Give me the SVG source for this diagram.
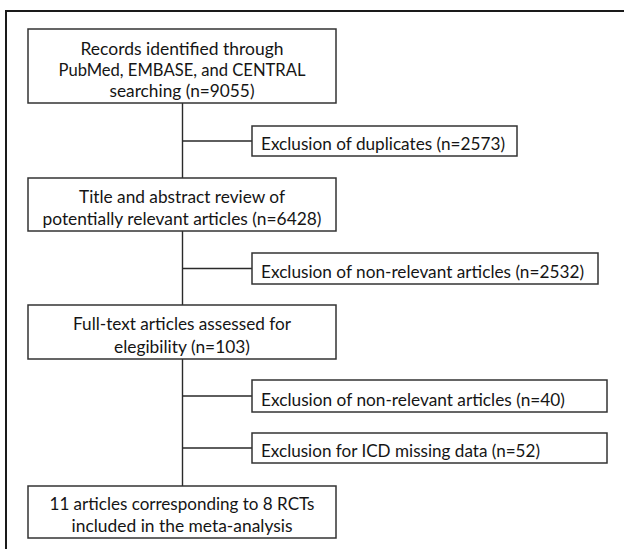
<svg xmlns="http://www.w3.org/2000/svg" width="624" height="549" viewBox="0 0 624 549">
<style>
.frame{fill:none;stroke:#1a1a1a;stroke-width:2}
.box{fill:#fff;stroke:#333;stroke-width:1.5}
.ln{fill:none;stroke:#2a2a2a;stroke-width:1.4}
text{font-family:Lato,"Liberation Sans",Arial,sans-serif;font-size:17px;fill:#151515}
.c{text-anchor:middle}
</style>
<rect width="624" height="549" fill="#fff"/>
<path class="frame" d="M6,549 V11 H624"/>
<g id="connectors">
<path class="ln" d="M182.5,103 V178 M182.5,231 V305 M182.5,359 V486"/>
<path class="ln" d="M182.5,141 H252 M182.5,268.5 H252 M182.5,396 H252 M182.5,448 H252"/>
</g>
<g id="n1">
<rect class="box" x="28" y="29" width="308" height="74"/>
<text class="c" x="182" y="55" textLength="203" lengthAdjust="spacingAndGlyphs">Records identified through</text>
<text class="c" x="182" y="76" textLength="247" lengthAdjust="spacingAndGlyphs">PubMed, EMBASE, and CENTRAL</text>
<text class="c" x="182" y="97" textLength="145" lengthAdjust="spacingAndGlyphs">searching (n=9055)</text>
</g>
<g id="e1">
<rect class="box" x="252" y="126" width="265" height="30"/>
<text x="261" y="150" textLength="244" lengthAdjust="spacingAndGlyphs">Exclusion of duplicates (n=2573)</text>
</g>
<g id="n2">
<rect class="box" x="28" y="178" width="308" height="53"/>
<text class="c" x="182" y="202.5" textLength="206" lengthAdjust="spacingAndGlyphs">Title and abstract review of</text>
<text class="c" x="182" y="224.5" textLength="279" lengthAdjust="spacingAndGlyphs">potentially relevant articles (n=6428)</text>
</g>
<g id="e2">
<rect class="box" x="252" y="253" width="346" height="31"/>
<text x="261" y="278" textLength="323" lengthAdjust="spacingAndGlyphs">Exclusion of non-relevant articles (n=2532)</text>
</g>
<g id="n3">
<rect class="box" x="28" y="305" width="308" height="54"/>
<text class="c" x="182" y="330" textLength="218" lengthAdjust="spacingAndGlyphs">Full-text articles assessed for</text>
<text class="c" x="182" y="352.5" textLength="136" lengthAdjust="spacingAndGlyphs">elegibility (n=103)</text>
</g>
<g id="e3">
<rect class="box" x="252" y="380" width="355" height="32"/>
<text x="261" y="405.5" textLength="304" lengthAdjust="spacingAndGlyphs">Exclusion of non-relevant articles (n=40)</text>
</g>
<g id="e4">
<rect class="box" x="252" y="433" width="355" height="30"/>
<text x="261" y="457" textLength="279" lengthAdjust="spacingAndGlyphs">Exclusion for ICD missing data (n=52)</text>
</g>
<g id="n4">
<rect class="box" x="28" y="486" width="308" height="52"/>
<text class="c" x="182" y="509.5" textLength="265" lengthAdjust="spacingAndGlyphs">11 articles corresponding to 8 RCTs</text>
<text class="c" x="182" y="532" textLength="221" lengthAdjust="spacingAndGlyphs">included in the meta-analysis</text>
</g>
</svg>
